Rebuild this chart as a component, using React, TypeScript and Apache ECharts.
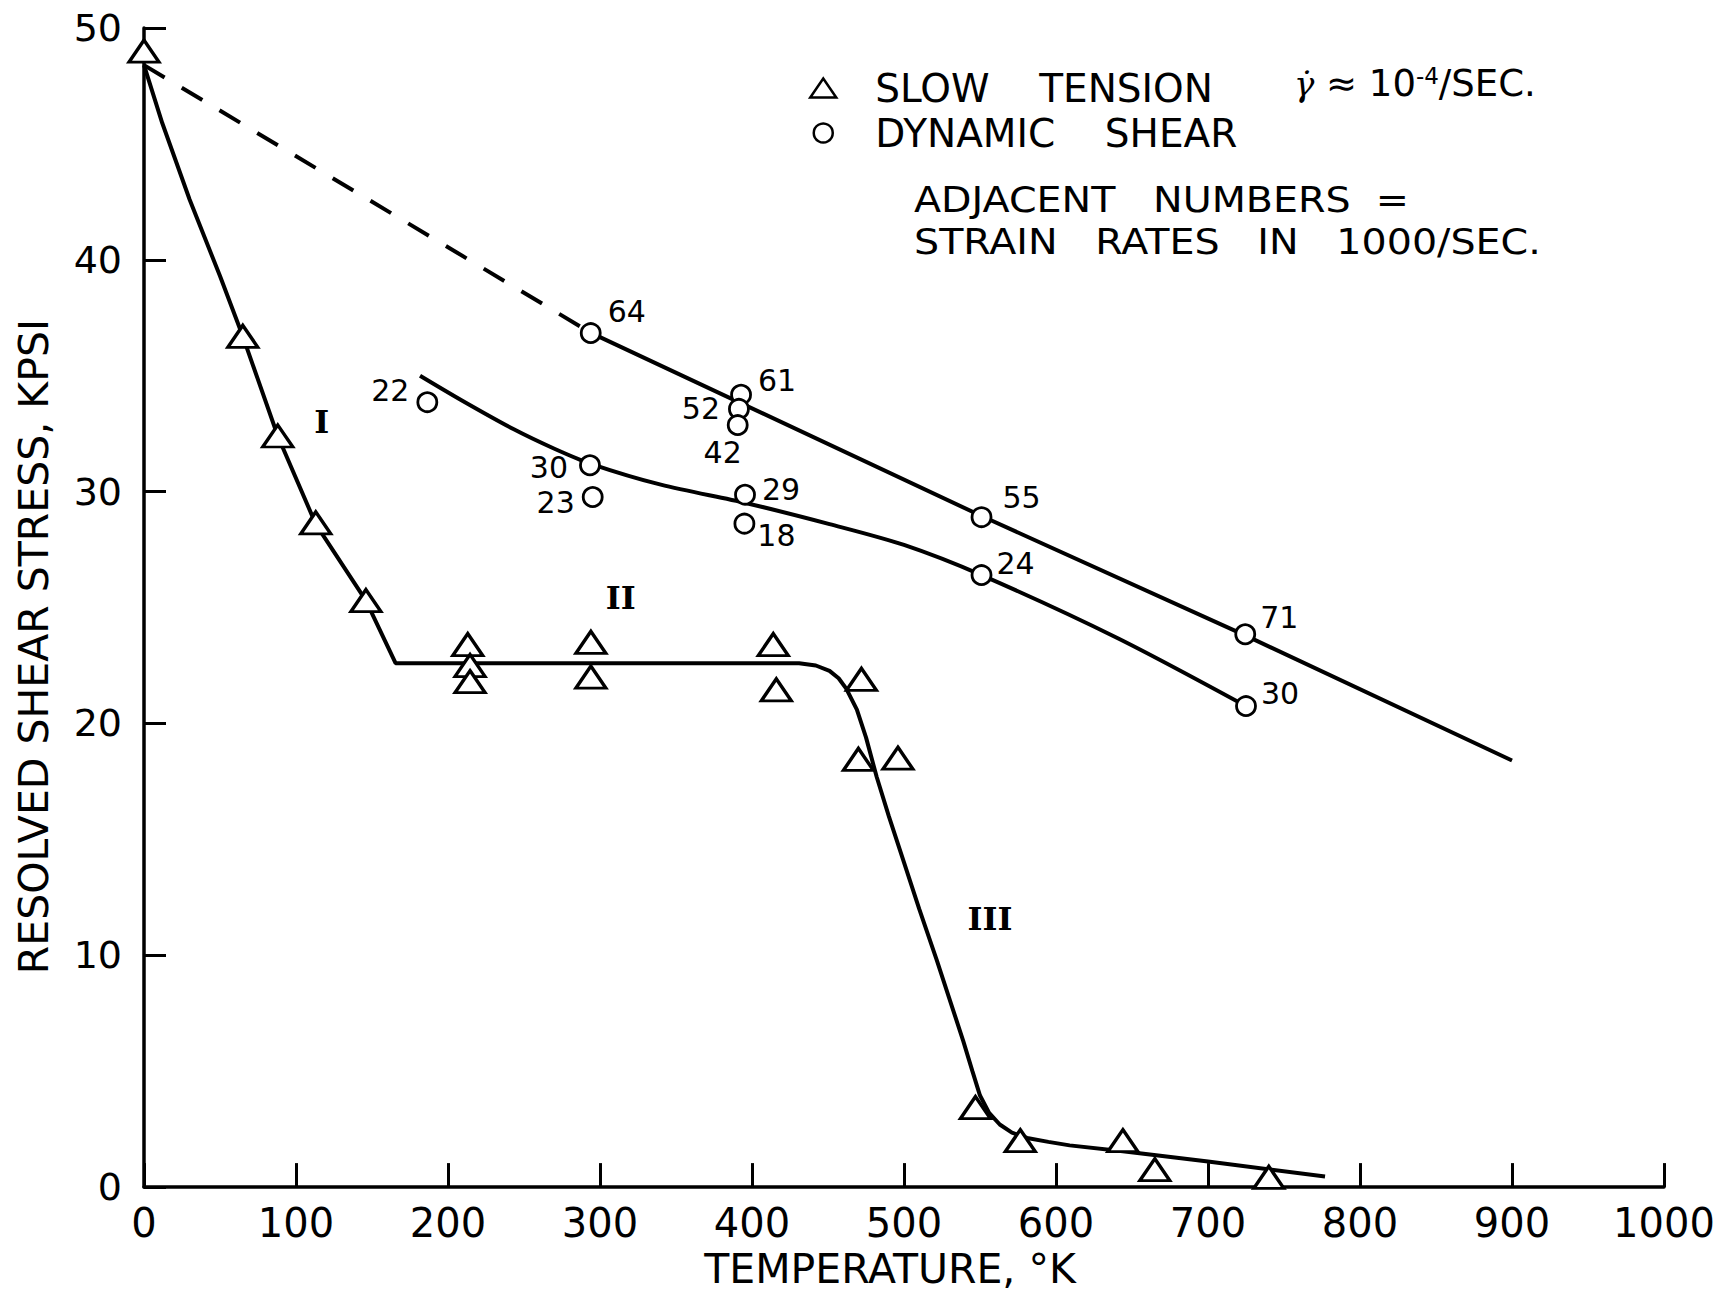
import React, { useEffect, useRef } from "react";
import * as echarts from "echarts";

// ---- data ----
// Slow tension measurements (triangles)
const tensionX = [0, 65, 88, 113, 146, 213, 214.5, 214.5, 294, 294, 414, 416, 472, 470, 496, 547, 576.5, 644, 665, 740];
const tensionY = [49.0, 36.7, 32.4, 28.65, 25.3, 23.4, 22.5, 21.8, 23.5, 22.0, 23.4, 21.45, 21.9, 18.45, 18.5, 3.43, 2.0, 2.0, 0.75, 0.42];

// Dynamic shear measurements (circles) and their strain rates (1000/sec)
const shearX = [186.4, 293.9, 392.8, 391.4, 390.6, 293.4, 295.2, 395.4, 395, 551, 551, 724.5, 725];
const shearY = [33.86, 36.84, 34.18, 33.57, 32.87, 31.14, 29.77, 29.87, 28.62, 28.9, 26.4, 23.85, 20.75];
const strainRates = ["22", "64", "61", "52", "42", "30", "23", "29", "18", "55", "24", "71", "30"];
// label placement around each circle, in pixels [dx, dy]
const strainLabelOffset = [
  [-37, -12], [36, -22], [36, -14], [-38, 0], [-15, 27], [-41, 2], [-37, 6],
  [36, -5], [32, 12], [40, -20], [34, -12], [34, -17], [34, -13],
];

// Fitted curve through slow tension data (regions I, II, III)
const tensionCurveX = [0, 12, 30, 50, 65, 88, 113, 146, 165.5, 300, 431, 442, 451, 457, 462, 469, 475, 482, 490, 499.5, 510, 521.5, 530, 539, 545, 550, 556, 563, 571, 581, 595, 609, 644, 700, 777];
const tensionCurveY = [48.4, 45.9, 42.6, 39.3, 36.7, 32.4, 28.6, 25.3, 22.6, 22.6, 22.6, 22.5, 22.27, 21.95, 21.5, 20.6, 19.4, 17.7, 16.0, 14.1, 12.0, 9.8, 8.1, 6.3, 5.0, 3.95, 3.2, 2.7, 2.35, 2.12, 1.95, 1.8, 1.55, 1.1, 0.46];

// Upper dynamic shear line (dashed extrapolation + solid fit)
const upperDashX = [0, 294];
const upperDashY = [48.4, 36.85];
const upperLineX = [294, 551, 724.5, 900];
const upperLineY = [36.85, 28.95, 23.8, 18.4];

// Lower dynamic shear curve
const lowerCurveX = [181.6, 210, 243, 270, 294, 340, 396.5, 451, 500, 551, 640, 725];
const lowerCurveY = [35.0, 33.9, 32.7, 31.85, 31.2, 30.3, 29.5, 28.6, 27.7, 26.4, 23.7, 20.75];

// Region labels
const regionNames = ["I", "II", "III"];
const regionX = [117, 313.6, 556.6];
const regionY = [33, 25.4, 11.55];

// Axis ticks
const xTicks = [0, 100, 200, 300, 400, 500, 600, 700, 800, 900, 1000];
const yTicks = [0, 10, 20, 30, 40, 50];

const FONT = "DejaVu Sans";

const zip = (xs: number[], ys: number[]) => xs.map((x, i) => [x, ys[i]]);

export default function App() {
  const ref = useRef<HTMLDivElement>(null);

  useEffect(() => {
    if (!ref.current) return;
    const chart = echarts.init(ref.current, undefined, { renderer: "svg" });
    const black = "#000";

    const option: any = {
      animation: false,
      backgroundColor: "#fff",
      textStyle: { fontFamily: FONT, color: black },
      grid: { left: 144, right: 67, top: 28, bottom: 106, containLabel: false },
      legend: {
        orient: "vertical",
        left: 804,
        top: 63,
        itemWidth: 26,
        itemHeight: 19,
        itemGap: 5,
        selectedMode: false,
        data: [
          { name: "SLOW TENSION", icon: "triangle" },
          { name: "DYNAMIC SHEAR", icon: "circle" },
        ],
        formatter: (n: string) => n.replace(" ", "    "),
        itemStyle: { color: "#fff", borderColor: black, borderWidth: 2.5, opacity: 1 },
        textStyle: { fontSize: 39, color: black, fontFamily: FONT, lineHeight: 40, padding: [0, 0, 0, 34] },
      },
      xAxis: {
        type: "value",
        min: xTicks[0],
        max: xTicks[xTicks.length - 1],
        interval: xTicks[1] - xTicks[0],
        name: "TEMPERATURE, °K",
        nameLocation: "middle",
        nameGap: 56,
        nameTextStyle: { fontSize: 41, color: black, fontFamily: FONT, padding: [0, 28, 0, 0] },
        axisLine: { show: true, lineStyle: { color: black, width: 3.5 } },
        axisTick: { show: true, inside: true, length: 24, lineStyle: { color: black, width: 3 } },
        axisLabel: { fontSize: 40, color: black, fontFamily: FONT, margin: 16, formatter: (v: number) => String(v) },
        splitLine: { show: false },
      },
      yAxis: {
        type: "value",
        min: yTicks[0],
        max: yTicks[yTicks.length - 1],
        interval: yTicks[1] - yTicks[0],
        name: "RESOLVED SHEAR STRESS, KPSI",
        nameLocation: "middle",
        nameRotate: 90,
        nameGap: 90,
        nameTextStyle: { fontSize: 41, color: black, fontFamily: FONT, padding: [0, 78, 0, 0] },
        axisLine: { show: true, lineStyle: { color: black, width: 3.5 } },
        axisTick: { show: true, inside: true, length: 22, lineStyle: { color: black, width: 3 } },
        axisLabel: { fontSize: 38, color: black, fontFamily: FONT, margin: 22, formatter: (v: number) => String(v) },
        splitLine: { show: false },
      },
      graphic: [
        {
          type: "text",
          left: 1294,
          top: 64,
          style: {
            text: "{g|γ̇}{a| ≈ 10}{s|-4}{a|/SEC.}",
            rich: {
              g: { fontSize: 34, fontFamily: "DejaVu Serif", fontStyle: "italic", fill: black },
              a: { fontSize: 37, fontFamily: FONT, fill: black },
              s: { fontSize: 23, fontFamily: FONT, fill: black, verticalAlign: "top", padding: [0, 0, 16, 0] },
            },
          },
        },
        {
          type: "text",
          x: 914,
          y: 200,
          scaleX: 1.1,
          style: {
            text: "ADJACENT   NUMBERS  =",
            fontSize: 36,
            fontFamily: FONT,
            fill: black,
            verticalAlign: "middle",
          },
        },
        {
          type: "text",
          x: 914,
          y: 242,
          scaleX: 1.1,
          style: {
            text: "STRAIN   RATES   IN   1000/SEC.",
            fontSize: 36,
            fontFamily: FONT,
            fill: black,
            verticalAlign: "middle",
          },
        },
      ],
      series: [
        {
          name: "tension fit",
          type: "line",
          data: zip(tensionCurveX, tensionCurveY),
          showSymbol: false,
          smooth: false,
          lineStyle: { color: black, width: 4 },
          silent: true,
          z: 2,
        },
        {
          name: "upper dashed",
          type: "line",
          data: zip(upperDashX, upperDashY),
          showSymbol: false,
          lineStyle: { color: black, width: 4, type: [24, 20] },
          silent: true,
          z: 2,
        },
        {
          name: "upper fit",
          type: "line",
          data: zip(upperLineX, upperLineY),
          showSymbol: false,
          lineStyle: { color: black, width: 4 },
          silent: true,
          z: 2,
        },
        {
          name: "lower fit",
          type: "line",
          data: zip(lowerCurveX, lowerCurveY),
          showSymbol: false,
          smooth: 0.3,
          lineStyle: { color: black, width: 4 },
          silent: true,
          z: 2,
        },
        {
          name: "SLOW TENSION",
          type: "scatter",
          symbol: "triangle",
          symbolSize: [30, 22],
          data: zip(tensionX, tensionY),
          itemStyle: { color: "#fff", borderColor: black, borderWidth: 3.2, opacity: 1 },
          z: 5,
        },
        {
          name: "DYNAMIC SHEAR",
          type: "scatter",
          symbol: "circle",
          symbolSize: 19,
          data: shearX.map((x, i) => ({
            value: [x, shearY[i]],
            label: {
              show: true,
              position: "inside",
              offset: strainLabelOffset[i],
              formatter: strainRates[i],
              fontSize: 30,
              fontFamily: FONT,
              color: black,
            },
          })),
          itemStyle: { color: "#fff", borderColor: black, borderWidth: 2.8, opacity: 1 },
          z: 5,
        },
        {
          name: "regions",
          type: "scatter",
          symbolSize: 0,
          data: regionX.map((x, i) => ({
            value: [x, regionY[i]],
            label: {
              show: true,
              position: "inside",
              formatter: regionNames[i],
              fontSize: 32,
              fontWeight: "bold",
              fontFamily: "DejaVu Serif",
              color: black,
            },
          })),
          itemStyle: { opacity: 1 },
          silent: true,
          z: 4,
        },
      ],
    };

    chart.setOption(option);
    return () => chart.dispose();
  }, []);

  return (
    <div
      ref={ref}
      style={{ position: "absolute", left: 0, top: 0, width: 1731, height: 1294, background: "#fff" }}
    />
  );
}
